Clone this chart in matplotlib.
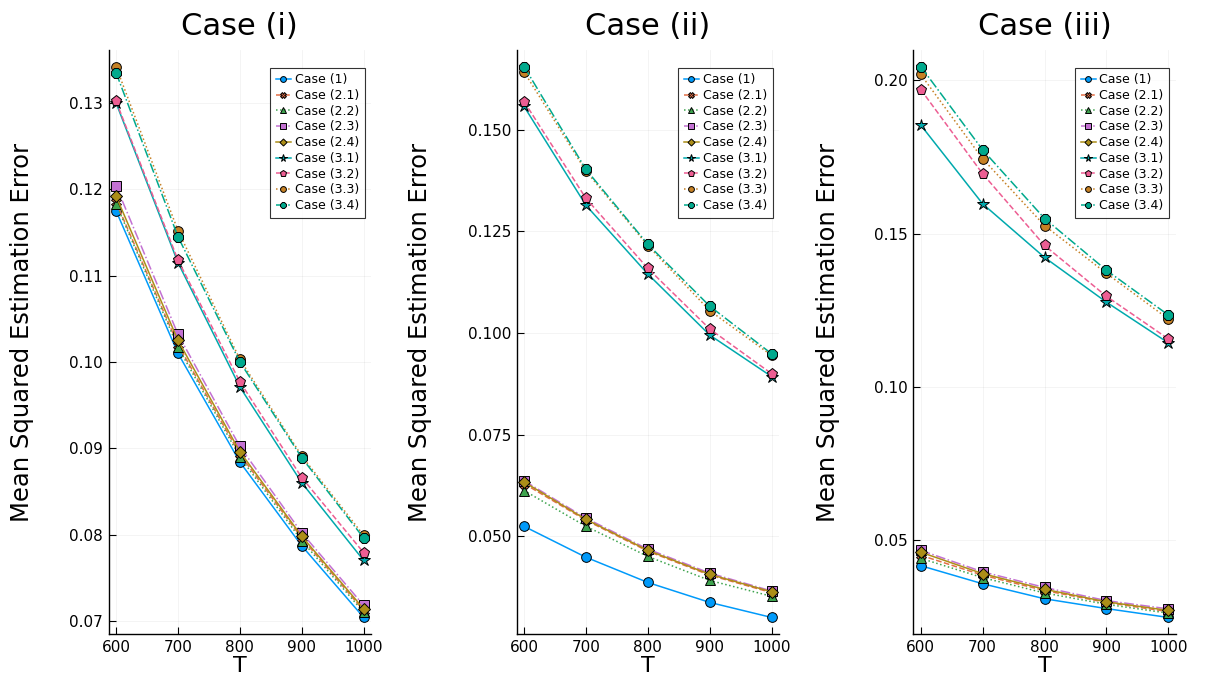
import matplotlib
matplotlib.use("Agg")
import matplotlib.pyplot as plt
from matplotlib.ticker import MultipleLocator, FormatStrFormatter

T = [600, 700, 800, 900, 1000]

case_labels = ["Case (1)", "Case (2.1)", "Case (2.2)", "Case (2.3)", "Case (2.4)",
               "Case (3.1)", "Case (3.2)", "Case (3.3)", "Case (3.4)"]

panel_titles = ["Case (i)", "Case (ii)", "Case (iii)"]

# Mean squared estimation error, one list per case, for each panel
mse_i = [
    [0.1175, 0.1010, 0.0884, 0.0787, 0.0704],
    [0.1185, 0.1020, 0.0893, 0.0796, 0.0712],
    [0.1183, 0.1017, 0.0890, 0.0793, 0.0710],
    [0.1204, 0.1032, 0.0902, 0.0802, 0.0718],
    [0.1192, 0.1025, 0.0896, 0.0798, 0.0714],
    [0.1300, 0.1115, 0.0971, 0.0860, 0.0770],
    [0.1302, 0.1118, 0.0977, 0.0866, 0.0779],
    [0.1342, 0.1152, 0.1003, 0.0891, 0.0799],
    [0.1335, 0.1145, 0.1000, 0.0889, 0.0796],
]
mse_ii = [
    [0.0525, 0.0449, 0.0387, 0.0338, 0.0301],
    [0.0630, 0.0540, 0.0464, 0.0405, 0.0362],
    [0.0613, 0.0525, 0.0451, 0.0392, 0.0353],
    [0.0637, 0.0545, 0.0469, 0.0410, 0.0366],
    [0.0634, 0.0542, 0.0466, 0.0407, 0.0364],
    [0.1557, 0.1314, 0.1145, 0.0995, 0.0893],
    [0.1569, 0.1331, 0.1159, 0.1010, 0.0900],
    [0.1642, 0.1398, 0.1215, 0.1055, 0.0945],
    [0.1655, 0.1402, 0.1218, 0.1066, 0.0949],
]
mse_iii = [
    [0.0416, 0.0357, 0.0308, 0.0276, 0.0247],
    [0.0450, 0.0385, 0.0335, 0.0296, 0.0266],
    [0.0440, 0.0377, 0.0327, 0.0290, 0.0261],
    [0.0466, 0.0396, 0.0345, 0.0302, 0.0275],
    [0.0460, 0.0390, 0.0339, 0.0298, 0.0270],
    [0.1854, 0.1597, 0.1422, 0.1276, 0.1143],
    [0.1970, 0.1695, 0.1461, 0.1295, 0.1156],
    [0.2019, 0.1744, 0.1526, 0.1370, 0.1221],
    [0.2045, 0.1773, 0.1549, 0.1380, 0.1234],
]

colors = ["#009AFA", "#E36F47", "#3EA44E", "#C371D2", "#AC8E18",
          "#00A9AD", "#ED5E93", "#C68125", "#00A98D"]
markers = ["o", "X", "^", "s", "D", "*", "p", "o", "8"]
msizes = [7, 6.5, 7, 7, 6, 9, 8, 7, 7.5]
lstyles = ["-", "--", ":", "-.", "-", "-", "--", ":", "-."]

panel_data = [mse_i, mse_ii, mse_iii]
ytick_step = [0.01, 0.025, 0.05]
ytick_fmt = ["%.2f", "%.3f", "%.2f"]

W, H = 1207, 700
fig = plt.figure(figsize=(W / 100, H / 100), dpi=100)
plt.rcParams["font.family"] = "DejaVu Sans"

ax_left = [108.6, 516.6, 913.3]
ax_w = 262.5
ax_top, ax_bottom = 50, 634
ylabel_x = [-0.285, -0.322, -0.278]

for k, data in enumerate(panel_data):
    ax = fig.add_axes([ax_left[k] / W, (H - ax_bottom) / H,
                       ax_w / W, (ax_bottom - ax_top) / H])
    for i, ys in enumerate(data):
        ax.plot(T, ys, color=colors[i], linestyle=lstyles[i], linewidth=1.1,
                marker=markers[i], markersize=msizes[i],
                markerfacecolor=colors[i], markeredgecolor="black",
                markeredgewidth=0.7, label=case_labels[i])
    ax.set_xlim(588, 1012)
    ax.margins(y=0.03)
    ax.set_xticks(T)
    ax.yaxis.set_major_locator(MultipleLocator(ytick_step[k]))
    ax.yaxis.set_major_formatter(FormatStrFormatter(ytick_fmt[k]))
    for side in ("top", "right"):
        ax.spines[side].set_visible(False)
    for side in ("left", "bottom"):
        ax.spines[side].set_linewidth(1.0)
    ax.tick_params(direction="in", length=5, width=0.8, labelsize=11,
                   colors="black", pad=4)
    ax.grid(True, color="black", alpha=0.05, linewidth=0.6)
    ax.set_title(panel_titles[k], fontsize=22, pad=11)
    ax.set_xlabel("T", fontsize=16, labelpad=1)
    ax.set_ylabel("Mean Squared Estimation Error", fontsize=17.5)
    ax.yaxis.set_label_coords(ylabel_x[k], 0.517)
    leg = ax.legend(loc="upper right", bbox_to_anchor=(0.975, 0.97),
                    fontsize=9, frameon=True, fancybox=False,
                    handlelength=1.2, handletextpad=0.3, labelspacing=0.22,
                    borderpad=0.45, borderaxespad=0, markerscale=0.6)
    leg.get_frame().set_edgecolor("black")
    leg.get_frame().set_linewidth(0.8)

fig.savefig("out.png", dpi=100)
